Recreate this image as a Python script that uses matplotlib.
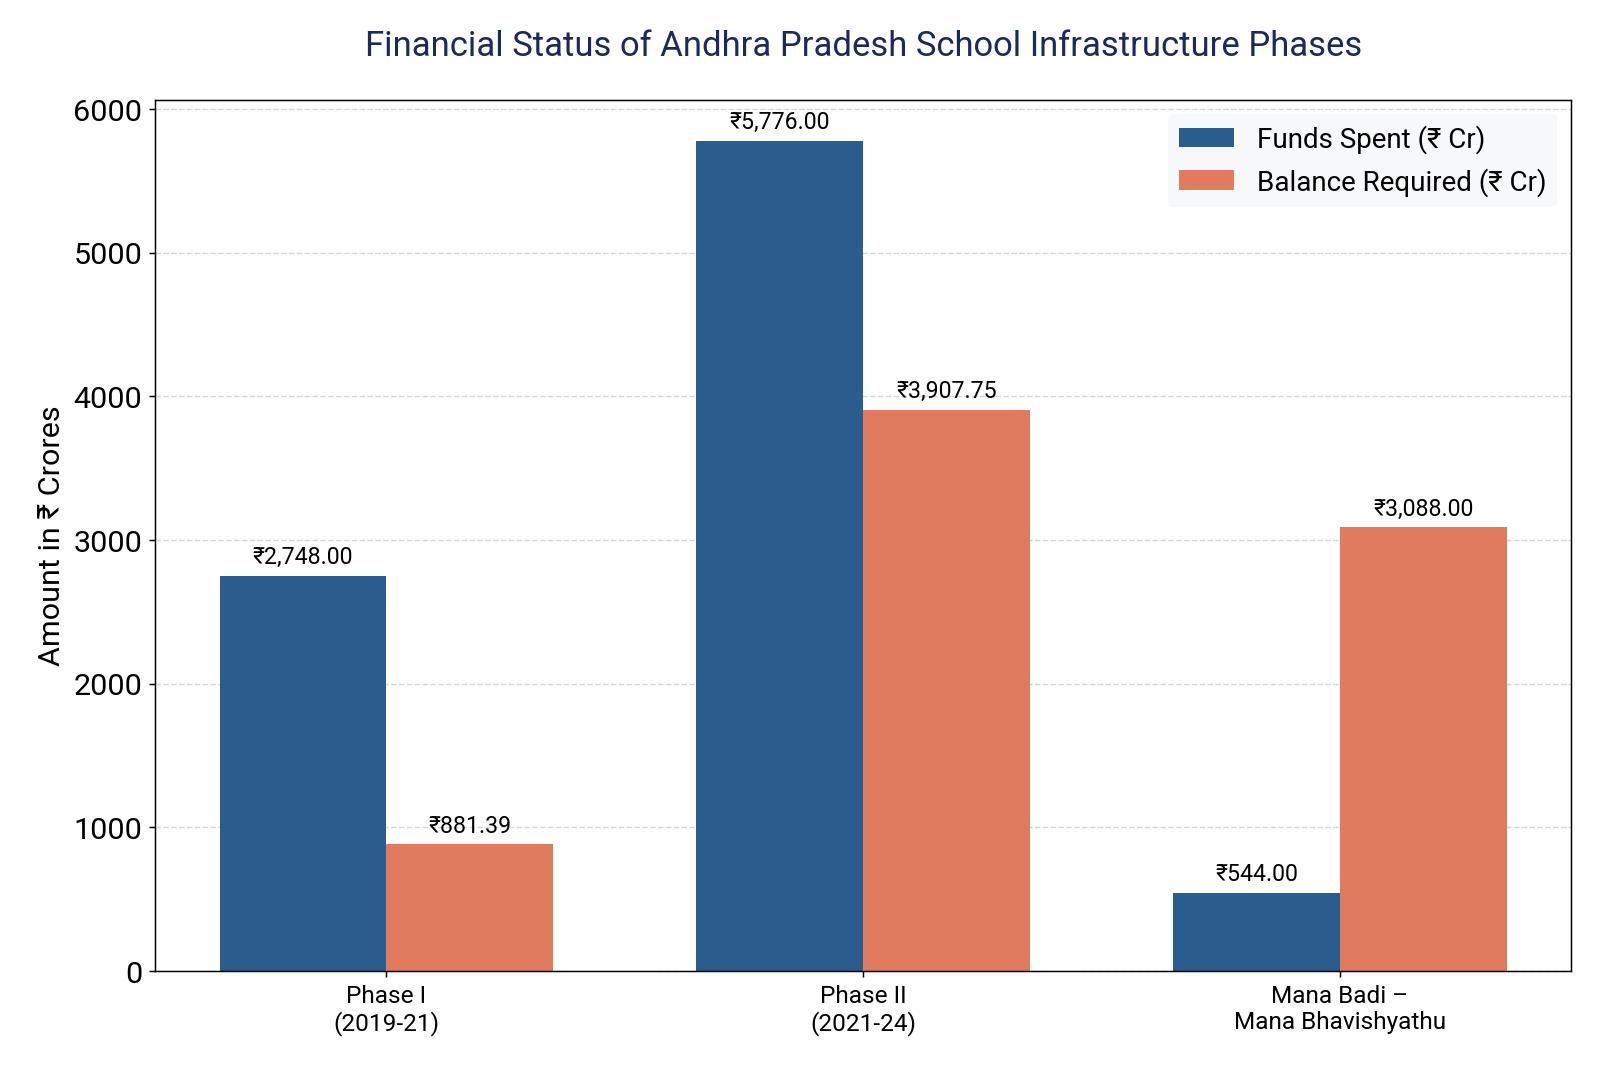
import matplotlib
matplotlib.use("Agg")
import matplotlib.pyplot as plt
import numpy as np

plt.rcParams['font.family'] = ['Roboto', 'Noto Sans', 'DejaVu Sans']

phases = ["Phase I\n(2019-21)", "Phase II\n(2021-24)", "Mana Badi –\nMana Bhavishyathu"]
funds_spent = [2748.00, 5776.00, 544.00]
balance_required = [881.39, 3907.75, 3088.00]

blue = '#2b5c8e'
orange = '#e07b5f'

fig, ax = plt.subplots(figsize=(12, 8), dpi=133.33)
fig.subplots_adjust(left=0.097, right=0.982, top=0.906, bottom=0.089)

x = np.arange(len(phases))
w = 0.35
b1 = ax.bar(x - w / 2, funds_spent, w, color=blue, label='Funds Spent (₹ Cr)')
b2 = ax.bar(x + w / 2, balance_required, w, color=orange, label='Balance Required (₹ Cr)')

for bars in (b1, b2):
    for b in bars:
        h = b.get_height()
        ax.annotate('₹{:,.2f}'.format(h), (b.get_x() + b.get_width() / 2, h),
                    xytext=(0, 4), textcoords='offset points',
                    ha='center', va='bottom', fontsize=12.5)

ax.set_ylim(0, max(funds_spent) * 1.05)
ax.set_xticks(x)
ax.set_xticklabels(phases, fontsize=13.2)
ax.tick_params(axis='y', labelsize=16.5)
ax.set_ylabel('Amount in ₹ Crores', fontsize=16.5)
ax.set_title('Financial Status of Andhra Pradesh School Infrastructure Phases',
             fontsize=18.7, color='#1b2a5c', pad=24)
ax.yaxis.grid(True, linestyle='--', color='#cccccc', alpha=0.8)
ax.set_axisbelow(True)

leg = ax.legend(fontsize=15, loc='upper right', facecolor='#f7f8fa',
                edgecolor='none', framealpha=1)

plt.savefig('out.png', dpi=133.33)
